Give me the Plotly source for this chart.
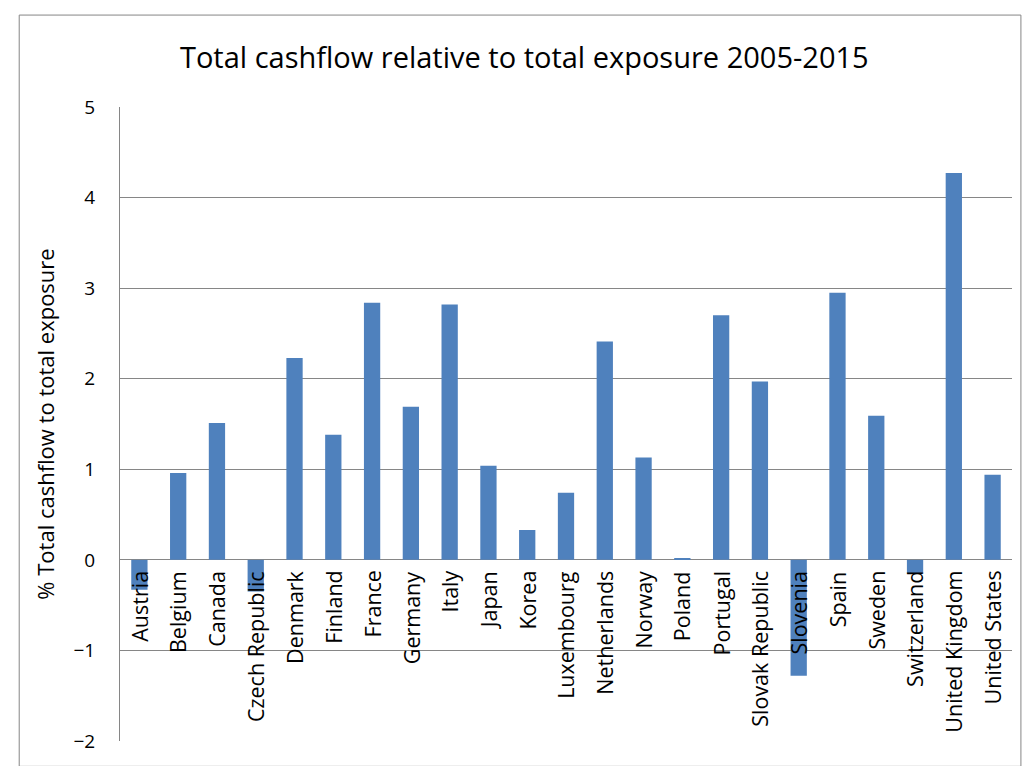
import plotly.graph_objects as go

countries = ["Austria", "Belgium", "Canada", "Czech Republic", "Denmark", "Finland",
             "France", "Germany", "Italy", "Japan", "Korea", "Luxembourg", "Netherlands",
             "Norway", "Poland", "Portugal", "Slovak Republic", "Slovenia", "Spain",
             "Sweden", "Switzerland", "United Kingdom", "United States"]
values = [-0.33, 0.96, 1.51, -0.35, 2.23, 1.38, 2.84, 1.69, 2.82, 1.04, 0.33, 0.74,
          2.41, 1.13, 0.02, 2.70, 1.97, -1.28, 2.95, 1.59, -0.15, 4.27, 0.94]
y_ticks = [-2, -1, 0, 1, 2, 3, 4, 5]

FONT = "Open Sans"

fig = go.Figure()
fig.add_trace(go.Bar(x=countries, y=values, marker=dict(color="#4F81BD", line=dict(width=0)),
                     width=0.42))

for c in countries:
    fig.add_annotation(x=c, y=0, xref="x", yref="y", text=c, textangle=-90,
                       showarrow=False, yanchor="top", xanchor="center", yshift=-9,
                       font=dict(family=FONT, size=21.5, color="#000000"))

fig.update_layout(
    width=1026, height=766,
    paper_bgcolor="white", plot_bgcolor="white",
    margin=dict(l=120, r=14, t=107, b=20),
    title=dict(text="Total cashflow relative to total exposure 2005-2015",
               x=0.511, xanchor="center", y=0.925, yanchor="middle",
               font=dict(family=FONT, size=29, color="#000000")),
    showlegend=False,
    xaxis=dict(showticklabels=False, showgrid=False, zeroline=False, showline=False,
               ticks=""),
    yaxis=dict(range=[-2, 5], tickvals=y_ticks, showgrid=True, gridcolor="#868686",
               gridwidth=1, zeroline=True, zerolinecolor="#868686", zerolinewidth=1,
               showline=True, linecolor="#868686", linewidth=1, ticks="",
               ticklabelstandoff=20,
               tickfont=dict(family=FONT, size=19, color="#000000"),
               title=dict(text="% Total cashflow to total exposure", standoff=12,
                          font=dict(family=FONT, size=22, color="#000000"))),
    shapes=[dict(type="rect", xref="paper", yref="paper", x0=-0.113, x1=1.01,
                 y0=-0.04, y1=1.145, line=dict(color="#868686", width=1))],
)

fig.write_html("out.html")
